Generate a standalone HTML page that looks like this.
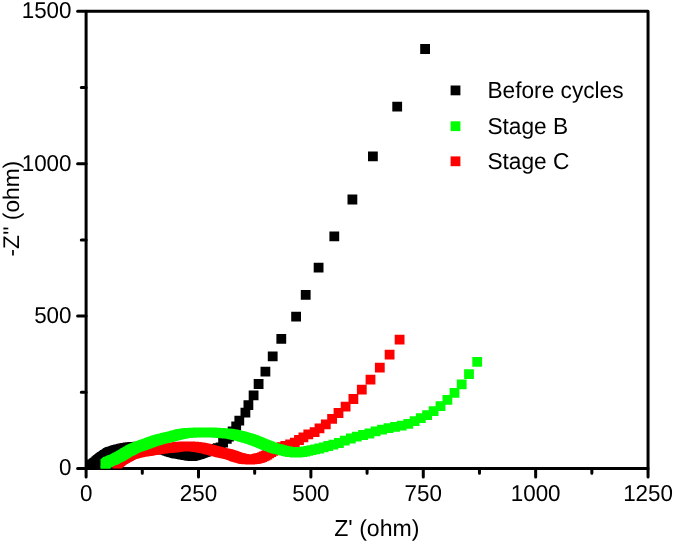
<!DOCTYPE html>
<html><head><meta charset="utf-8"><style>
html,body{margin:0;padding:0;background:#fff;}
svg{display:block;}
text{font-family:"Liberation Sans",sans-serif;fill:#000;text-rendering:geometricPrecision;}
svg{will-change:transform;}
</style></head><body>
<svg width="675" height="543" viewBox="0 0 675 543">
<rect width="675" height="543" fill="#fff"/>
<path d="M86.10 11.30H648.05V468.45H86.10Z" fill="none" stroke="#000" stroke-width="3" stroke-linejoin="round"/>
<path d="M86.10 468.45v8.5M142.29 468.45v4.7M198.49 468.45v8.5M254.68 468.45v4.7M310.88 468.45v8.5M367.07 468.45v4.7M423.27 468.45v8.5M479.46 468.45v4.7M535.66 468.45v8.5M591.85 468.45v4.7M648.05 468.45v8.5M86.10 468.45h-8.5M86.10 392.26h-4.8M86.10 316.07h-8.5M86.10 239.88h-4.8M86.10 163.68h-8.5M86.10 87.49h-4.8M86.10 11.30h-8.5" stroke="#000" stroke-width="3" stroke-linecap="round"/>
<path d="M215.7 442.4h9.8v9.8h-9.8zM212.8 443.3h9.8v9.8h-9.8zM210.2 444.1h9.8v9.8h-9.8zM207.7 444.7h9.8v9.8h-9.8zM205.4 445.3h9.8v9.8h-9.8zM203.4 446.0h9.8v9.8h-9.8zM201.6 446.7h9.8v9.8h-9.8zM199.9 447.3h9.8v9.8h-9.8zM198.4 447.8h9.8v9.8h-9.8zM197.0 448.3h9.8v9.8h-9.8zM195.7 448.7h9.8v9.8h-9.8zM194.5 449.1h9.8v9.8h-9.8zM193.3 449.5h9.8v9.8h-9.8zM192.2 449.8h9.8v9.8h-9.8zM191.0 450.2h9.8v9.8h-9.8zM189.9 450.5h9.8v9.8h-9.8zM188.7 450.8h9.8v9.8h-9.8zM187.5 451.1h9.8v9.8h-9.8zM186.4 451.0h9.8v9.8h-9.8zM185.2 450.9h9.8v9.8h-9.8zM184.0 450.7h9.8v9.8h-9.8zM182.8 450.5h9.8v9.8h-9.8zM181.6 450.3h9.8v9.8h-9.8zM180.4 450.1h9.8v9.8h-9.8zM179.2 449.8h9.8v9.8h-9.8zM178.1 449.6h9.8v9.8h-9.8zM176.9 449.4h9.8v9.8h-9.8zM175.7 449.2h9.8v9.8h-9.8zM174.5 449.0h9.8v9.8h-9.8zM173.3 448.8h9.8v9.8h-9.8zM172.2 448.6h9.8v9.8h-9.8zM171.0 448.4h9.8v9.8h-9.8zM169.8 448.1h9.8v9.8h-9.8zM168.6 447.8h9.8v9.8h-9.8zM167.5 447.5h9.8v9.8h-9.8zM166.3 447.2h9.8v9.8h-9.8zM165.2 446.8h9.8v9.8h-9.8zM164.0 446.4h9.8v9.8h-9.8zM162.9 446.0h9.8v9.8h-9.8zM161.8 445.6h9.8v9.8h-9.8zM160.7 445.2h9.8v9.8h-9.8zM159.5 444.8h9.8v9.8h-9.8zM158.4 444.6h9.8v9.8h-9.8zM157.2 444.4h9.8v9.8h-9.8zM156.0 444.1h9.8v9.8h-9.8zM154.8 443.9h9.8v9.8h-9.8zM153.6 443.7h9.8v9.8h-9.8zM152.5 443.6h9.8v9.8h-9.8zM151.3 443.4h9.8v9.8h-9.8zM150.1 443.2h9.8v9.8h-9.8zM148.9 443.0h9.8v9.8h-9.8zM147.7 442.8h9.8v9.8h-9.8zM146.5 442.7h9.8v9.8h-9.8zM145.3 442.5h9.8v9.8h-9.8zM144.1 442.4h9.8v9.8h-9.8zM142.9 442.2h9.8v9.8h-9.8zM141.8 442.1h9.8v9.8h-9.8zM140.6 442.0h9.8v9.8h-9.8zM139.4 441.9h9.8v9.8h-9.8zM138.2 441.9h9.8v9.8h-9.8zM137.0 441.8h9.8v9.8h-9.8zM135.8 441.7h9.8v9.8h-9.8zM134.6 441.7h9.8v9.8h-9.8zM133.4 441.8h9.8v9.8h-9.8zM132.2 441.8h9.8v9.8h-9.8zM131.0 441.9h9.8v9.8h-9.8zM129.8 441.9h9.8v9.8h-9.8zM128.6 442.0h9.8v9.8h-9.8zM127.4 442.1h9.8v9.8h-9.8zM126.2 442.2h9.8v9.8h-9.8zM125.0 442.3h9.8v9.8h-9.8zM123.8 442.4h9.8v9.8h-9.8zM122.6 442.6h9.8v9.8h-9.8zM121.4 442.9h9.8v9.8h-9.8zM120.3 443.1h9.8v9.8h-9.8zM119.1 443.3h9.8v9.8h-9.8zM117.9 443.6h9.8v9.8h-9.8zM116.7 443.8h9.8v9.8h-9.8zM115.6 444.1h9.8v9.8h-9.8zM114.4 444.4h9.8v9.8h-9.8zM113.2 444.6h9.8v9.8h-9.8zM112.1 444.9h9.8v9.8h-9.8zM110.9 445.2h9.8v9.8h-9.8zM109.8 445.6h9.8v9.8h-9.8zM108.6 446.0h9.8v9.8h-9.8zM107.5 446.4h9.8v9.8h-9.8zM106.4 446.7h9.8v9.8h-9.8zM105.2 447.1h9.8v9.8h-9.8zM104.1 447.5h9.8v9.8h-9.8zM103.1 448.1h9.8v9.8h-9.8zM102.1 448.8h9.8v9.8h-9.8zM101.1 449.5h9.8v9.8h-9.8zM100.0 450.1h9.8v9.8h-9.8zM99.0 450.7h9.8v9.8h-9.8zM98.1 451.4h9.8v9.8h-9.8zM97.1 452.1h9.8v9.8h-9.8zM96.1 452.8h9.8v9.8h-9.8zM95.1 453.5h9.8v9.8h-9.8zM94.2 454.2h9.8v9.8h-9.8zM93.2 455.0h9.8v9.8h-9.8zM92.3 455.7h9.8v9.8h-9.8zM91.4 456.6h9.8v9.8h-9.8zM90.5 457.4h9.8v9.8h-9.8zM89.6 458.1h9.8v9.8h-9.8zM88.6 458.8h9.8v9.8h-9.8zM87.6 459.4h9.8v9.8h-9.8zM86.4 459.5h9.8v9.8h-9.8zM85.6 459.6h9.8v9.8h-9.8zM218.2 437.6h9.8v9.8h-9.8zM221.9 433.9h9.8v9.8h-9.8zM224.1 431.6h9.8v9.8h-9.8zM227.7 426.4h9.8v9.8h-9.8zM231.3 421.6h9.8v9.8h-9.8zM234.4 415.8h9.8v9.8h-9.8zM240.5 407.8h9.8v9.8h-9.8zM243.5 400.2h9.8v9.8h-9.8zM248.7 390.5h9.8v9.8h-9.8zM253.7 379.1h9.8v9.8h-9.8zM260.5 366.8h9.8v9.8h-9.8zM267.8 351.5h9.8v9.8h-9.8zM276.4 334.0h9.8v9.8h-9.8zM291.2 311.8h9.8v9.8h-9.8zM300.8 290.0h9.8v9.8h-9.8zM313.7 262.8h9.8v9.8h-9.8zM329.4 231.5h9.8v9.8h-9.8zM347.5 194.6h9.8v9.8h-9.8zM368.0 151.4h9.8v9.8h-9.8zM392.3 101.7h9.8v9.8h-9.8zM420.2 44.1h9.8v9.8h-9.8z" fill="#000"/>
<path d="M294.1 435.1h9.8v9.8h-9.8zM289.9 437.8h9.8v9.8h-9.8zM285.2 439.5h9.8v9.8h-9.8zM280.4 441.0h9.8v9.8h-9.8zM276.5 442.2h9.8v9.8h-9.8zM273.5 443.5h9.8v9.8h-9.8zM270.9 444.7h9.8v9.8h-9.8zM268.5 446.0h9.8v9.8h-9.8zM266.3 447.2h9.8v9.8h-9.8zM264.3 448.4h9.8v9.8h-9.8zM262.4 449.6h9.8v9.8h-9.8zM260.6 450.7h9.8v9.8h-9.8zM258.9 451.5h9.8v9.8h-9.8zM257.2 452.2h9.8v9.8h-9.8zM255.6 452.9h9.8v9.8h-9.8zM254.0 453.3h9.8v9.8h-9.8zM252.6 453.6h9.8v9.8h-9.8zM251.3 453.9h9.8v9.8h-9.8zM250.0 454.2h9.8v9.8h-9.8zM248.8 454.3h9.8v9.8h-9.8zM247.6 454.4h9.8v9.8h-9.8zM246.4 454.5h9.8v9.8h-9.8zM245.2 454.6h9.8v9.8h-9.8zM244.0 454.5h9.8v9.8h-9.8zM242.8 454.5h9.8v9.8h-9.8zM241.6 454.4h9.8v9.8h-9.8zM240.4 454.3h9.8v9.8h-9.8zM239.2 454.1h9.8v9.8h-9.8zM238.1 453.9h9.8v9.8h-9.8zM236.9 453.6h9.8v9.8h-9.8zM235.7 453.3h9.8v9.8h-9.8zM234.6 453.0h9.8v9.8h-9.8zM233.4 452.7h9.8v9.8h-9.8zM232.3 452.3h9.8v9.8h-9.8zM231.1 451.9h9.8v9.8h-9.8zM230.0 451.6h9.8v9.8h-9.8zM228.9 451.1h9.8v9.8h-9.8zM227.8 450.7h9.8v9.8h-9.8zM226.6 450.3h9.8v9.8h-9.8zM225.5 449.9h9.8v9.8h-9.8zM224.4 449.5h9.8v9.8h-9.8zM223.2 449.3h9.8v9.8h-9.8zM222.0 449.0h9.8v9.8h-9.8zM220.8 448.8h9.8v9.8h-9.8zM219.7 448.5h9.8v9.8h-9.8zM218.5 448.2h9.8v9.8h-9.8zM217.3 448.0h9.8v9.8h-9.8zM216.2 447.7h9.8v9.8h-9.8zM215.0 447.5h9.8v9.8h-9.8zM213.8 447.1h9.8v9.8h-9.8zM212.7 446.8h9.8v9.8h-9.8zM211.5 446.5h9.8v9.8h-9.8zM210.4 446.2h9.8v9.8h-9.8zM209.2 445.9h9.8v9.8h-9.8zM208.0 445.6h9.8v9.8h-9.8zM206.9 445.3h9.8v9.8h-9.8zM205.7 445.0h9.8v9.8h-9.8zM204.5 444.7h9.8v9.8h-9.8zM203.4 444.4h9.8v9.8h-9.8zM202.2 444.1h9.8v9.8h-9.8zM201.1 443.8h9.8v9.8h-9.8zM199.9 443.5h9.8v9.8h-9.8zM198.7 443.3h9.8v9.8h-9.8zM197.5 443.1h9.8v9.8h-9.8zM196.4 442.8h9.8v9.8h-9.8zM195.2 442.6h9.8v9.8h-9.8zM194.0 442.4h9.8v9.8h-9.8zM192.8 442.3h9.8v9.8h-9.8zM191.6 442.1h9.8v9.8h-9.8zM190.4 441.9h9.8v9.8h-9.8zM189.2 441.8h9.8v9.8h-9.8zM188.0 441.8h9.8v9.8h-9.8zM186.8 441.7h9.8v9.8h-9.8zM185.6 441.6h9.8v9.8h-9.8zM184.5 441.5h9.8v9.8h-9.8zM183.3 441.5h9.8v9.8h-9.8zM182.1 441.5h9.8v9.8h-9.8zM180.9 441.5h9.8v9.8h-9.8zM179.7 441.5h9.8v9.8h-9.8zM178.5 441.6h9.8v9.8h-9.8zM177.3 441.7h9.8v9.8h-9.8zM176.1 441.7h9.8v9.8h-9.8zM174.9 441.8h9.8v9.8h-9.8zM173.7 442.0h9.8v9.8h-9.8zM172.5 442.1h9.8v9.8h-9.8zM171.3 442.3h9.8v9.8h-9.8zM170.1 442.4h9.8v9.8h-9.8zM168.9 442.6h9.8v9.8h-9.8zM167.7 442.7h9.8v9.8h-9.8zM166.5 442.9h9.8v9.8h-9.8zM165.3 443.0h9.8v9.8h-9.8zM164.1 443.1h9.8v9.8h-9.8zM162.9 443.2h9.8v9.8h-9.8zM161.7 443.3h9.8v9.8h-9.8zM160.5 443.4h9.8v9.8h-9.8zM159.4 443.5h9.8v9.8h-9.8zM158.2 443.6h9.8v9.8h-9.8zM157.0 443.8h9.8v9.8h-9.8zM155.8 443.9h9.8v9.8h-9.8zM154.6 444.1h9.8v9.8h-9.8zM153.4 444.3h9.8v9.8h-9.8zM152.2 444.5h9.8v9.8h-9.8zM151.0 444.7h9.8v9.8h-9.8zM149.9 444.9h9.8v9.8h-9.8zM148.7 445.1h9.8v9.8h-9.8zM147.5 445.3h9.8v9.8h-9.8zM146.3 445.5h9.8v9.8h-9.8zM145.1 445.7h9.8v9.8h-9.8zM143.9 445.9h9.8v9.8h-9.8zM142.8 446.1h9.8v9.8h-9.8zM141.6 446.3h9.8v9.8h-9.8zM140.4 446.5h9.8v9.8h-9.8zM139.2 446.7h9.8v9.8h-9.8zM138.0 446.8h9.8v9.8h-9.8zM136.8 447.0h9.8v9.8h-9.8zM135.7 447.2h9.8v9.8h-9.8zM134.5 447.4h9.8v9.8h-9.8zM133.3 447.6h9.8v9.8h-9.8zM132.1 447.9h9.8v9.8h-9.8zM131.0 448.3h9.8v9.8h-9.8zM129.8 448.6h9.8v9.8h-9.8zM128.7 448.9h9.8v9.8h-9.8zM127.5 449.3h9.8v9.8h-9.8zM126.4 449.8h9.8v9.8h-9.8zM125.4 450.3h9.8v9.8h-9.8zM124.3 450.9h9.8v9.8h-9.8zM123.2 451.4h9.8v9.8h-9.8zM122.2 451.9h9.8v9.8h-9.8zM121.1 452.5h9.8v9.8h-9.8zM120.1 453.1h9.8v9.8h-9.8zM119.0 453.7h9.8v9.8h-9.8zM118.0 454.3h9.8v9.8h-9.8zM117.0 455.0h9.8v9.8h-9.8zM116.0 455.7h9.8v9.8h-9.8zM115.1 456.4h9.8v9.8h-9.8zM114.1 457.2h9.8v9.8h-9.8zM113.2 458.0h9.8v9.8h-9.8zM112.4 458.7h9.8v9.8h-9.8zM298.5 432.4h9.8v9.8h-9.8zM303.4 429.5h9.8v9.8h-9.8zM309.7 427.2h9.8v9.8h-9.8zM314.6 423.4h9.8v9.8h-9.8zM320.9 419.4h9.8v9.8h-9.8zM327.2 414.0h9.8v9.8h-9.8zM333.6 408.1h9.8v9.8h-9.8zM340.7 401.7h9.8v9.8h-9.8zM348.5 394.1h9.8v9.8h-9.8zM356.9 384.7h9.8v9.8h-9.8zM365.6 374.7h9.8v9.8h-9.8zM374.9 362.7h9.8v9.8h-9.8zM384.7 349.8h9.8v9.8h-9.8zM394.7 334.7h9.8v9.8h-9.8z" fill="#ff0000"/>
<path d="M422.2 410.2h9.8v9.8h-9.8zM415.9 413.2h9.8v9.8h-9.8zM409.7 416.3h9.8v9.8h-9.8zM403.4 419.0h9.8v9.8h-9.8zM396.8 420.7h9.8v9.8h-9.8zM390.2 422.0h9.8v9.8h-9.8zM383.6 423.2h9.8v9.8h-9.8zM377.1 424.8h9.8v9.8h-9.8zM370.7 426.5h9.8v9.8h-9.8zM364.5 428.6h9.8v9.8h-9.8zM358.2 430.1h9.8v9.8h-9.8zM351.9 431.7h9.8v9.8h-9.8zM345.9 433.6h9.8v9.8h-9.8zM339.9 435.8h9.8v9.8h-9.8zM334.0 438.1h9.8v9.8h-9.8zM328.5 439.7h9.8v9.8h-9.8zM323.4 441.1h9.8v9.8h-9.8zM318.7 442.5h9.8v9.8h-9.8zM314.4 443.6h9.8v9.8h-9.8zM310.4 444.5h9.8v9.8h-9.8zM306.7 445.3h9.8v9.8h-9.8zM303.3 446.0h9.8v9.8h-9.8zM300.2 446.6h9.8v9.8h-9.8zM297.3 447.1h9.8v9.8h-9.8zM294.7 447.5h9.8v9.8h-9.8zM292.2 447.6h9.8v9.8h-9.8zM289.8 447.6h9.8v9.8h-9.8zM287.5 447.3h9.8v9.8h-9.8zM285.2 447.1h9.8v9.8h-9.8zM283.1 446.6h9.8v9.8h-9.8zM281.0 446.2h9.8v9.8h-9.8zM279.1 445.7h9.8v9.8h-9.8zM277.1 445.2h9.8v9.8h-9.8zM275.3 444.7h9.8v9.8h-9.8zM273.5 444.3h9.8v9.8h-9.8zM271.7 443.9h9.8v9.8h-9.8zM270.0 443.5h9.8v9.8h-9.8zM268.4 442.9h9.8v9.8h-9.8zM266.9 442.4h9.8v9.8h-9.8zM265.4 441.8h9.8v9.8h-9.8zM264.0 441.3h9.8v9.8h-9.8zM262.6 440.7h9.8v9.8h-9.8zM261.2 440.2h9.8v9.8h-9.8zM259.9 439.7h9.8v9.8h-9.8zM258.7 439.2h9.8v9.8h-9.8zM257.5 438.7h9.8v9.8h-9.8zM256.3 438.2h9.8v9.8h-9.8zM255.2 437.7h9.8v9.8h-9.8zM254.0 437.3h9.8v9.8h-9.8zM252.9 436.8h9.8v9.8h-9.8zM251.8 436.4h9.8v9.8h-9.8zM250.7 435.9h9.8v9.8h-9.8zM249.6 435.5h9.8v9.8h-9.8zM248.4 435.1h9.8v9.8h-9.8zM247.3 434.7h9.8v9.8h-9.8zM246.2 434.3h9.8v9.8h-9.8zM245.1 433.9h9.8v9.8h-9.8zM243.9 433.6h9.8v9.8h-9.8zM242.7 433.2h9.8v9.8h-9.8zM241.6 432.9h9.8v9.8h-9.8zM240.4 432.6h9.8v9.8h-9.8zM239.3 432.3h9.8v9.8h-9.8zM238.1 431.9h9.8v9.8h-9.8zM237.0 431.6h9.8v9.8h-9.8zM235.8 431.3h9.8v9.8h-9.8zM234.7 430.9h9.8v9.8h-9.8zM233.5 430.7h9.8v9.8h-9.8zM232.3 430.4h9.8v9.8h-9.8zM231.2 430.1h9.8v9.8h-9.8zM230.0 429.9h9.8v9.8h-9.8zM228.8 429.6h9.8v9.8h-9.8zM227.6 429.4h9.8v9.8h-9.8zM226.5 429.2h9.8v9.8h-9.8zM225.3 428.9h9.8v9.8h-9.8zM224.1 428.8h9.8v9.8h-9.8zM222.9 428.7h9.8v9.8h-9.8zM221.7 428.6h9.8v9.8h-9.8zM220.5 428.5h9.8v9.8h-9.8zM219.3 428.4h9.8v9.8h-9.8zM218.1 428.3h9.8v9.8h-9.8zM216.9 428.2h9.8v9.8h-9.8zM215.7 428.1h9.8v9.8h-9.8zM214.5 428.0h9.8v9.8h-9.8zM213.3 427.9h9.8v9.8h-9.8zM212.1 427.9h9.8v9.8h-9.8zM210.9 427.8h9.8v9.8h-9.8zM209.7 427.7h9.8v9.8h-9.8zM208.5 427.7h9.8v9.8h-9.8zM207.3 427.6h9.8v9.8h-9.8zM206.1 427.6h9.8v9.8h-9.8zM204.9 427.6h9.8v9.8h-9.8zM203.7 427.6h9.8v9.8h-9.8zM202.5 427.6h9.8v9.8h-9.8zM201.3 427.6h9.8v9.8h-9.8zM200.1 427.6h9.8v9.8h-9.8zM198.9 427.6h9.8v9.8h-9.8zM197.7 427.6h9.8v9.8h-9.8zM196.5 427.6h9.8v9.8h-9.8zM195.3 427.6h9.8v9.8h-9.8zM194.1 427.6h9.8v9.8h-9.8zM192.9 427.6h9.8v9.8h-9.8zM191.7 427.7h9.8v9.8h-9.8zM190.5 427.7h9.8v9.8h-9.8zM189.3 427.8h9.8v9.8h-9.8zM188.1 427.8h9.8v9.8h-9.8zM186.9 427.9h9.8v9.8h-9.8zM185.7 428.0h9.8v9.8h-9.8zM184.5 428.0h9.8v9.8h-9.8zM183.3 428.1h9.8v9.8h-9.8zM182.1 428.2h9.8v9.8h-9.8zM181.0 428.3h9.8v9.8h-9.8zM179.8 428.5h9.8v9.8h-9.8zM178.6 428.7h9.8v9.8h-9.8zM177.4 428.9h9.8v9.8h-9.8zM176.2 429.1h9.8v9.8h-9.8zM175.0 429.3h9.8v9.8h-9.8zM173.9 429.6h9.8v9.8h-9.8zM172.7 429.9h9.8v9.8h-9.8zM171.6 430.2h9.8v9.8h-9.8zM170.4 430.5h9.8v9.8h-9.8zM169.2 430.8h9.8v9.8h-9.8zM168.1 431.2h9.8v9.8h-9.8zM166.9 431.5h9.8v9.8h-9.8zM165.8 431.8h9.8v9.8h-9.8zM164.6 432.1h9.8v9.8h-9.8zM163.4 432.3h9.8v9.8h-9.8zM162.3 432.6h9.8v9.8h-9.8zM161.1 432.8h9.8v9.8h-9.8zM159.9 433.1h9.8v9.8h-9.8zM158.7 433.4h9.8v9.8h-9.8zM157.6 433.7h9.8v9.8h-9.8zM156.4 434.0h9.8v9.8h-9.8zM155.3 434.3h9.8v9.8h-9.8zM154.1 434.6h9.8v9.8h-9.8zM153.0 434.9h9.8v9.8h-9.8zM151.8 435.3h9.8v9.8h-9.8zM150.7 435.6h9.8v9.8h-9.8zM149.5 436.0h9.8v9.8h-9.8zM148.4 436.4h9.8v9.8h-9.8zM147.2 436.8h9.8v9.8h-9.8zM146.1 437.2h9.8v9.8h-9.8zM145.0 437.6h9.8v9.8h-9.8zM143.9 438.0h9.8v9.8h-9.8zM142.7 438.4h9.8v9.8h-9.8zM141.6 438.9h9.8v9.8h-9.8zM140.5 439.3h9.8v9.8h-9.8zM139.4 439.7h9.8v9.8h-9.8zM138.2 440.1h9.8v9.8h-9.8zM137.1 440.5h9.8v9.8h-9.8zM136.0 440.9h9.8v9.8h-9.8zM134.8 441.3h9.8v9.8h-9.8zM133.7 441.7h9.8v9.8h-9.8zM132.6 442.0h9.8v9.8h-9.8zM131.5 442.5h9.8v9.8h-9.8zM130.4 443.0h9.8v9.8h-9.8zM129.3 443.5h9.8v9.8h-9.8zM128.2 444.0h9.8v9.8h-9.8zM127.1 444.6h9.8v9.8h-9.8zM126.0 445.1h9.8v9.8h-9.8zM125.0 445.6h9.8v9.8h-9.8zM123.9 446.2h9.8v9.8h-9.8zM122.8 446.8h9.8v9.8h-9.8zM121.8 447.4h9.8v9.8h-9.8zM120.8 448.0h9.8v9.8h-9.8zM119.8 448.6h9.8v9.8h-9.8zM118.8 449.3h9.8v9.8h-9.8zM117.7 449.9h9.8v9.8h-9.8zM116.7 450.5h9.8v9.8h-9.8zM115.7 451.1h9.8v9.8h-9.8zM114.6 451.7h9.8v9.8h-9.8zM113.5 452.2h9.8v9.8h-9.8zM112.5 452.8h9.8v9.8h-9.8zM111.4 453.3h9.8v9.8h-9.8zM110.3 453.9h9.8v9.8h-9.8zM109.3 454.4h9.8v9.8h-9.8zM108.2 454.9h9.8v9.8h-9.8zM107.0 455.3h9.8v9.8h-9.8zM105.9 455.8h9.8v9.8h-9.8zM104.8 456.2h9.8v9.8h-9.8zM103.7 456.7h9.8v9.8h-9.8zM102.6 457.1h9.8v9.8h-9.8zM101.7 457.9h9.8v9.8h-9.8zM100.8 458.7h9.8v9.8h-9.8zM100.5 458.9h9.8v9.8h-9.8zM428.7 406.3h9.8v9.8h-9.8zM435.6 401.3h9.8v9.8h-9.8zM442.5 394.9h9.8v9.8h-9.8zM449.6 388.0h9.8v9.8h-9.8zM456.8 379.4h9.8v9.8h-9.8zM464.1 369.2h9.8v9.8h-9.8zM472.3 356.9h9.8v9.8h-9.8z" fill="#00ff00"/>
<text transform="translate(86.10 501.30) scale(1 1.025)" text-anchor="middle" font-size="22.40">0</text>
<text transform="translate(198.49 501.30) scale(1 1.025)" text-anchor="middle" font-size="22.40">250</text>
<text transform="translate(310.88 501.30) scale(1 1.025)" text-anchor="middle" font-size="22.40">500</text>
<text transform="translate(423.27 501.30) scale(1 1.025)" text-anchor="middle" font-size="22.40">750</text>
<text transform="translate(535.66 501.30) scale(1 1.025)" text-anchor="middle" font-size="22.40">1000</text>
<text transform="translate(648.05 501.30) scale(1 1.025)" text-anchor="middle" font-size="22.40">1250</text>
<text transform="translate(71.50 475.00) scale(1 1.025)" text-anchor="end" font-size="22.40">0</text>
<text transform="translate(71.50 323.00) scale(1 1.025)" text-anchor="end" font-size="22.40">500</text>
<text transform="translate(71.50 171.00) scale(1 1.025)" text-anchor="end" font-size="22.40">1000</text>
<text transform="translate(71.50 18.40) scale(1 1.025)" text-anchor="end" font-size="22.40">1500</text>
<text transform="translate(376.85 535.60) scale(1 1.000)" text-anchor="middle" font-size="23.10">Z' (ohm)</text>
<text transform="translate(19.4 208.7) rotate(-90)" text-anchor="middle" font-size="22.7">-Z'' (ohm)</text>
<text transform="translate(487.40 98.40) scale(1 1.018)" text-anchor="start" font-size="22.70">Before cycles</text>
<text transform="translate(487.40 133.70) scale(1 1.018)" text-anchor="start" font-size="22.70">Stage B</text>
<text transform="translate(487.40 169.00) scale(1 1.018)" text-anchor="start" font-size="22.70">Stage C</text>
<rect x="450.6" y="85.5" width="9.8" height="9.8" fill="#000"/>
<rect x="450.6" y="121.3" width="9.8" height="9.8" fill="#0f0"/>
<rect x="450.6" y="156.4" width="9.8" height="9.8" fill="#f00"/>
</svg>
</body></html>
